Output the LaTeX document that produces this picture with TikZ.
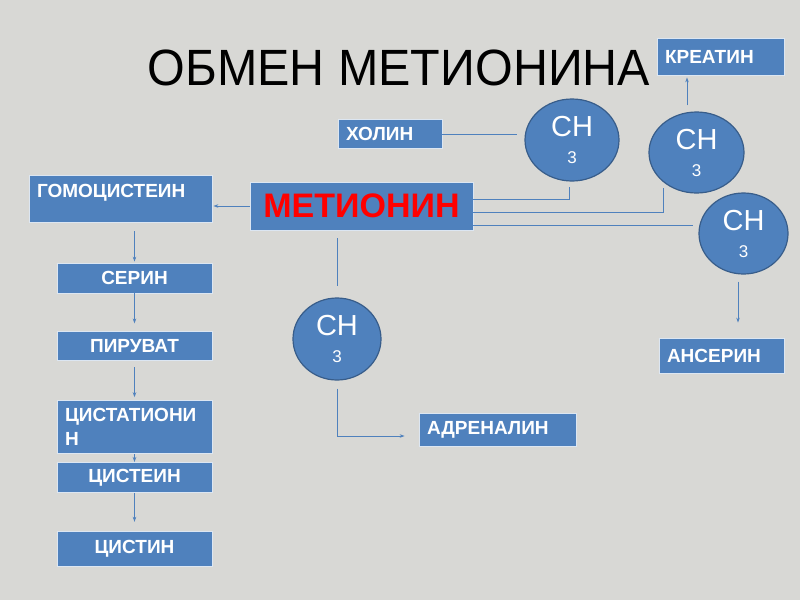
\documentclass[tikz,border=0pt]{standalone}
\usepackage{fontspec}
\setmainfont{Liberation Sans}
\newfontfamily\titlefont[FakeStretch=0.95]{Liberation Sans}
\usetikzlibrary{arrows.meta,positioning,shapes.geometric}
\definecolor{boxblue}{RGB}{79,129,189}
\definecolor{rimblue}{RGB}{56,93,138}
\definecolor{slidegray}{RGB}{216,216,213}
\tikzset{box/.style={rectangle,fill=boxblue,draw=white!80!boxblue,line width=0.8pt,inner xsep=8pt,inner ysep=0pt,text=white,font=\bfseries\fontsize{19}{24}\selectfont},
  methyl/.style={ellipse,fill=boxblue,draw=rimblue,line width=1.2pt,inner sep=0pt,text=white,align=center,font=\fontsize{29}{29}\selectfont},
  link/.style={draw=boxblue,line width=0.8pt},
  feed/.style={link,-{Stealth[length=5pt,width=3.5pt]}}}

\begin{document}
\begin{tikzpicture}[x=1pt,y=-1pt]
  \fill[slidegray] (0,0) rectangle (800,600);
  \node (title) [anchor=base,font=\titlefont\fontsize{51}{51}\selectfont] at (399,85) {ОБМЕН МЕТИОНИНА};

  % substances
  \node (metionin) [box,minimum width=223pt,minimum height=48pt,text=red,font=\bfseries\fontsize{34}{34}\selectfont] at (361.5,206) {МЕТИОНИН};
  \node (kreatin)  [box,text width=111pt,minimum height=37pt,align=left] at (720.5,56.5) {КРЕАТИН};
  \node (holin)    [box,text width=88pt,minimum height=29pt,align=left] at (390,134) {ХОЛИН};
  \node (gomo)     [box,text width=167pt,minimum height=47pt,align=left,text height=14pt,text depth=17pt] at (120.5,198.5) {ГОМОЦИСТЕИН};
  \node (serin)    [box,minimum width=155pt,minimum height=30pt] at (134.5,278) {СЕРИН};
  \node (piruvat)  [box,minimum width=155pt,minimum height=29pt,below=38pt of serin] {ПИРУВАТ};
  \node (cistat)   [box,text width=139pt,minimum height=53pt,align=left,below=39pt of piruvat] {ЦИСТАТИОНИ\\Н};
  \node (cistein)  [box,minimum width=155pt,minimum height=30pt,below=8pt of cistat] {ЦИСТЕИН};
  \node (cistin)   [box,minimum width=155pt,minimum height=35pt,below=38pt of cistein] {ЦИСТИН};
  \node (adrenalin) [box,text width=141pt,minimum height=33pt,align=left] at (497.5,429.5) {АДРЕНАЛИН};
  \node (anserin)  [box,text width=109pt,minimum height=35pt,align=left] at (721.5,355.5) {АНСЕРИН};

  % methyl groups
  \node (ch1) [methyl,minimum width=94pt,minimum height=82pt] at (572,140) {CH\\[-2pt]{\fontsize{17}{17}\selectfont 3}};
  \node (ch2) [methyl,minimum width=95pt,minimum height=81pt] at (696.5,152.5) {CH\\[-2pt]{\fontsize{17}{17}\selectfont 3}};
  \node (ch3) [methyl,minimum width=89pt,minimum height=81pt] at (743.5,233.5) {CH\\[-2pt]{\fontsize{17}{17}\selectfont 3}};
  \node (ch4) [methyl,minimum width=88pt,minimum height=82pt] at (337,339) {CH\\[-2pt]{\fontsize{17}{17}\selectfont 3}};

  \coordinate (ch1foot) at (569,187);
  \coordinate (ch2foot) at (663,188);
  \coordinate (ch3side) at (693,225);

  % connectors
  \draw[feed,shorten >=1pt] (metionin.west) -- (gomo.east |- metionin.west);
  \draw[feed,shorten <=9pt,shorten >=1pt] (gomo.south -| serin.north) -- (serin.north);
  \draw[feed,shorten >=8pt] (serin) -- (piruvat.north);
  \draw[feed,shorten <=6pt,shorten >=3pt] (piruvat) -- (cistat.north);
  \draw[feed] (cistat) -- (cistein.north);
  \draw[feed,shorten >=9pt] (cistein) -- (cistin.north);

  \draw[link,shorten >=7pt] (holin.east) -- (holin.east -| ch1.west);
  \draw[link] ([yshift=7pt]metionin.east) -| (ch1foot);
  \draw[link] ([yshift=-6pt]metionin.east) -| (ch2foot);
  \draw[link] (metionin.east |- ch3side) -- (ch3side);
  \draw[link,shorten <=8pt,shorten >=11pt] (ch4.north |- metionin.south) -- (ch4.north);

  \draw[feed,shorten <=6pt,shorten >=2pt] ([xshift=-9.5pt]ch2.north) -- ([xshift=-9.5pt]ch2.north |- kreatin.south);
  \draw[feed,shorten <=7pt,shorten >=15pt] ([xshift=-5.5pt]ch3.south) -- ([xshift=-5.5pt]ch3.south |- anserin.north);
  \draw[feed,shorten >=14pt] ([yshift=-8pt]ch4.south) |- ([yshift=-6.5pt]adrenalin.west);
\end{tikzpicture}
\end{document}
